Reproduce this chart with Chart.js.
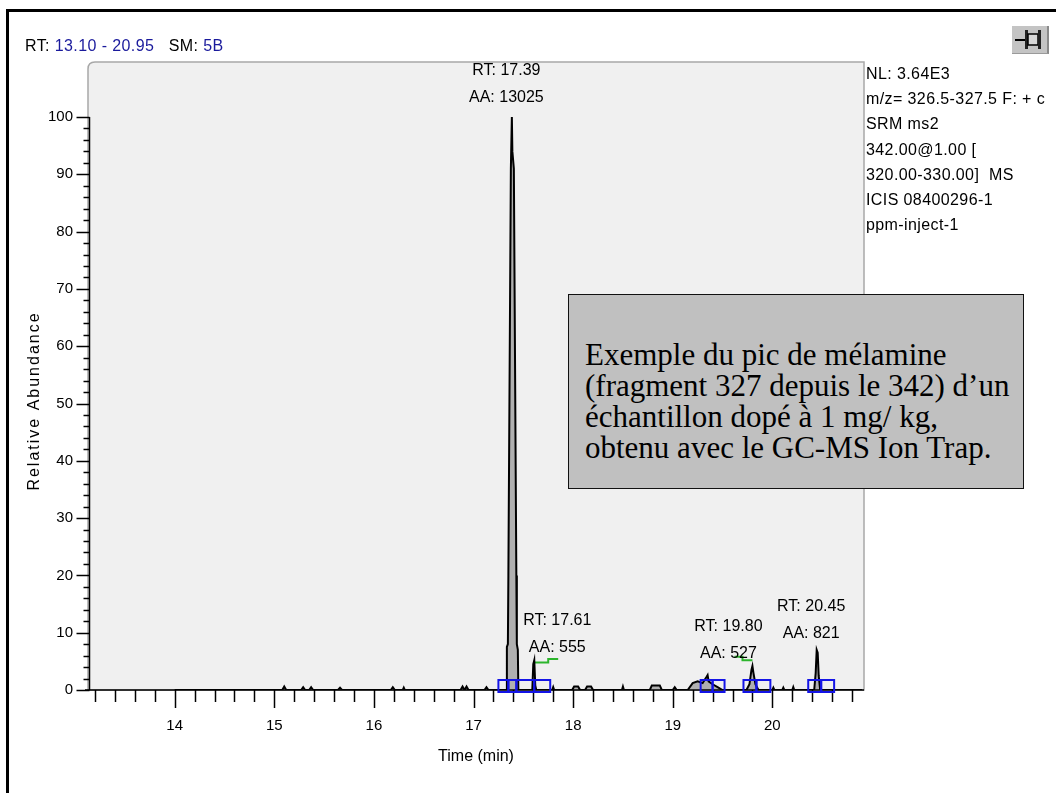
<!DOCTYPE html>
<html>
<head>
<meta charset="utf-8">
<script src="https://cdn.jsdelivr.net/npm/chart.js@4.4.1/dist/chart.umd.min.js"></script>
<style>
  body { margin: 0; background: #fff; }
  #wrap { position: relative; width: 1056px; height: 793px; overflow: hidden; font-family: "Liberation Sans", Arial, sans-serif; }
  #frameTop { position: absolute; left: 6px; top: 9px; width: 1050px; height: 3px; background: #000; }
  #frameLeft { position: absolute; left: 6px; top: 9px; width: 3px; height: 784px; background: #000; }
  #chart { position: absolute; left: 0; top: 0; }
  #header { position: absolute; left: 25px; top: 37px; font-size: 16px; letter-spacing: 0.4px; color: #000; white-space: pre; }
  #header .b { color: #1a1a9c; }
  #info { position: absolute; left: 866px; top: 61px; font-size: 16px; letter-spacing: 0.4px; line-height: 25.2px; color: #000; white-space: pre; }
  #pin { position: absolute; left: 1012px; top: 26px; width: 35px; height: 27px; background: #c4c4c4; border-right: 2px solid #8a8a8a; border-bottom: 1px solid #9a9a9a; }
  #note { position: absolute; left: 568px; top: 294px; width: 422px; height: 149px; padding: 44px 16px 0 16px; box-sizing: content-box;
          background: #c0c0c0; border: 1.5px solid #111; font-family: "Liberation Serif", "Times New Roman", serif; font-size: 31px; line-height: 31px; color: #000; white-space: nowrap; }
</style>
</head>
<body>
<div id="wrap">
  <canvas id="chart" width="1056" height="793"></canvas>
  <div id="frameTop"></div>
  <div id="frameLeft"></div>
  <div id="header">RT: <span class="b">13.10 - 20.95</span>   SM: <span class="b">5B</span></div>
  <div id="info"></div>
  <div id="pin">
    <svg width="35" height="27" viewBox="0 0 35 27">
      <line x1="3" y1="14" x2="13" y2="14" stroke="#000" stroke-width="2"/>
      <rect x="13" y="4" width="3" height="19" fill="#222"/>
      <rect x="16" y="8" width="10" height="11" fill="#d8d8d8" stroke="#000" stroke-width="1.5"/>
      <rect x="26" y="4" width="3" height="19" fill="#222"/>
    </svg>
  </div>
  <div id="note">Exemple du pic de mélamine<br>(fragment 327 depuis le 342) d’un<br>échantillon dopé à 1 mg/ kg,<br>obtenu avec le GC-MS Ion Trap.</div>
</div>

<script>
// chromatogram trace (time in min, relative abundance in %)
const times = [
  14.00,
  15.08, 15.10, 15.12,
  15.27, 15.29, 15.31, 15.35, 15.37, 15.39,
  15.64, 15.66, 15.68,
  16.17, 16.19, 16.21, 16.29, 16.30, 16.31,
  16.87, 16.89, 16.91, 16.93, 16.95,
  17.11, 17.13, 17.15,
  17.33, 17.335, 17.345, 17.35, 17.375, 17.385, 17.39, 17.405, 17.43, 17.435, 17.445, 17.45,
  17.59, 17.60, 17.61, 17.62, 17.63,
  17.79, 17.80, 17.81,
  17.99, 18.01, 18.05, 18.07, 18.12, 18.14, 18.18, 18.20,
  18.49, 18.50, 18.51,
  18.77, 18.79, 18.87, 18.89,
  19.00, 19.02, 19.04,
  19.15, 19.20, 19.25, 19.30, 19.34, 19.35, 19.36, 19.40, 19.45, 19.50,
  19.74, 19.77, 19.79, 19.80, 19.81, 19.83, 19.86,
  20.00, 20.01, 20.02, 20.10, 20.11, 20.12, 20.20, 20.21, 20.22,
  20.42, 20.435, 20.445, 20.455, 20.465, 20.48,
  20.90
];
const abundance = [
  0,
  0, 0.6, 0,
  0, 0.5, 0, 0, 0.5, 0,
  0, 0.4, 0,
  0, 0.5, 0, 0, 0.4, 0,
  0, 0.6, 0, 0.6, 0,
  0, 0.5, 0,
  0, 7.5, 8, 20, 91, 100, 94, 91, 20, 8, 7, 0,
  0, 4.5, 5.2, 0.8, 0,
  0, 0.5, 0,
  0, 0.6, 0.6, 0, 0, 0.6, 0.6, 0,
  0, 0.6, 0,
  0, 0.8, 0.8, 0,
  0, 0.5, 0,
  0, 1.2, 1.5, 1.2, 2.3, 2.6, 1.5, 1, 0.5, 0,
  0, 1, 3.5, 4.2, 3, 1, 0,
  0, 0.4, 0, 0, 0.4, 0, 0, 0.5, 0,
  0, 3, 7, 6.5, 2.5, 0,
  0
];

// labelled peaks
const peakRT = [17.39, 17.61, 19.80, 20.45];
const peakAA = [13025, 555, 527, 821];
const peakTop = [100, 5.2, 4.2, 7];

// integration markers (start / end, min)
const boxStart = [17.25, 17.35, 17.43, 17.61, 19.28, 19.40, 19.71, 19.84, 20.36, 20.49];
const boxEnd   = [17.35, 17.43, 17.61, 17.77, 19.40, 19.52, 19.84, 19.98, 20.49, 20.62];

// green baseline marks
const green1Times = [17.61, 17.75, 17.75, 17.85];
const green1Levels = [4.8, 4.8, 5.4, 5.4];
const green2Times = [19.62, 19.70, 19.70, 19.80];
const green2Levels = [5.8, 5.8, 5.2, 5.2];

// axes
const xMin = 13.10, xMax = 20.95;
const xTickLabels = [14, 15, 16, 17, 18, 19, 20];
const yTickLabels = [0, 10, 20, 30, 40, 50, 60, 70, 80, 90, 100];

const infoLines = ['NL: 3.64E3', 'm/z= 326.5-327.5 F: + c', 'SRM ms2', '342.00@1.00 [', '320.00-330.00]  MS', 'ICIS 08400296-1', 'ppm-inject-1'];
document.getElementById('info').textContent = infoLines.join('\n');

// label offsets (px) from each peak apex
const labelDx = [-6, 23, -24, -6];
const labelDy = [-19, -13, -12, -16];

const FONT = '"Liberation Sans", Arial, sans-serif';

const toPoints = (xs, ys) => xs.map((t, i) => ({ x: t, y: ys[i] }));

const chromPlugin = {
  id: 'chrom',
  beforeDatasetsDraw(chart) {
    const ctx = chart.ctx, a = chart.chartArea;
    ctx.save();
    const l = a.left + 3, t = a.top, r = a.right - 3, b = a.bottom, rad = 7;
    ctx.beginPath();
    ctx.moveTo(l, b);
    ctx.lineTo(l, t + rad);
    ctx.quadraticCurveTo(l, t, l + rad, t);
    ctx.lineTo(r, t);
    ctx.lineTo(r, b);
    ctx.closePath();
    ctx.fillStyle = '#f0f0f0';
    ctx.fill();
    ctx.strokeStyle = '#a8a8a8';
    ctx.lineWidth = 1.5;
    ctx.stroke();
    ctx.restore();
  },
  afterDraw(chart) {
    const ctx = chart.ctx, a = chart.chartArea;
    const xs = chart.scales.x, ys = chart.scales.y;
    ctx.save();
    ctx.strokeStyle = '#000';
    ctx.fillStyle = '#000';

    // x axis
    ctx.lineWidth = 1.5;
    ctx.beginPath();
    ctx.moveTo(a.left, a.bottom);
    ctx.lineTo(a.right - 3, a.bottom);
    ctx.stroke();
    xs.ticks.forEach(tk => {
      const px = Math.round(xs.getPixelForValue(tk.value)) + 0.5;
      const major = xTickLabels.some(v => Math.abs(v - tk.value) < 1e-6);
      ctx.beginPath();
      ctx.moveTo(px, a.bottom);
      ctx.lineTo(px, a.bottom + (major ? 18 : 12));
      ctx.stroke();
    });

    // y axis
    const yx = a.left + 4.5;
    ctx.beginPath();
    ctx.moveTo(yx, ys.getPixelForValue(100));
    ctx.lineTo(yx, a.bottom);
    ctx.stroke();
    ys.ticks.forEach(tk => {
      const py = Math.round(ys.getPixelForValue(tk.value)) + 0.5;
      const major = yTickLabels.includes(tk.value);
      ctx.beginPath();
      ctx.moveTo(yx - (major ? 13 : 6), py);
      ctx.lineTo(yx, py);
      ctx.stroke();
    });

    // integration markers
    ctx.strokeStyle = '#1414e6';
    ctx.lineWidth = 2;
    boxStart.forEach((s, i) => {
      const x0 = xs.getPixelForValue(s), x1 = xs.getPixelForValue(boxEnd[i]);
      ctx.strokeRect(x0, a.bottom - 10, x1 - x0, 12);
    });

    // peak labels
    ctx.fillStyle = '#000';
    ctx.font = '16px ' + FONT;
    ctx.textAlign = 'center';
    ctx.textBaseline = 'middle';
    peakRT.forEach((rt, i) => {
      const px = xs.getPixelForValue(rt) + labelDx[i];
      const py = ys.getPixelForValue(peakTop[i]) + labelDy[i];
      ctx.fillText('AA: ' + peakAA[i], px, py);
      ctx.fillText('RT: ' + rt.toFixed(2), px, py - 27);
    });

    // axis titles
    ctx.font = '16px ' + FONT;
    ctx.fillText('Time (min)', 476, 757);
    ctx.letterSpacing = '2px';
    ctx.translate(35, 401);
    ctx.rotate(-Math.PI / 2);
    ctx.fillText('Relative Abundance', 0, 0);
    ctx.restore();
  }
};

const xTickValues = [];
for (let v = 13.2; v < xMax; v += 0.2) xTickValues.push(Math.round(v * 10) / 10);
const yTickValues = [];
for (let v = 0; v <= 100; v += 2) yTickValues.push(v);

new Chart(document.getElementById('chart'), {
  type: 'line',
  data: {
    datasets: [
      {
        data: toPoints(times, abundance),
        borderColor: '#000',
        borderWidth: 2,
        backgroundColor: '#b0b0b0',
        fill: 'origin',
        pointRadius: 0,
        tension: 0
      },
      {
        data: toPoints(green1Times, green1Levels),
        borderColor: '#2cb52c',
        borderWidth: 2,
        pointRadius: 0,
        fill: false
      },
      {
        data: toPoints(green2Times, green2Levels),
        borderColor: '#2cb52c',
        borderWidth: 2,
        pointRadius: 0,
        fill: false
      }
    ]
  },
  options: {
    responsive: false,
    animation: false,
    layout: { padding: { left: 0, top: 62, right: 189, bottom: 0 } },
    plugins: { legend: { display: false }, tooltip: { enabled: false } },
    scales: {
      x: {
        type: 'linear',
        min: xMin,
        max: xMax,
        afterFit: s => { s.height = 103; },
        afterBuildTicks: s => { s.ticks = xTickValues.map(v => ({ value: v })); },
        grid: { display: false, drawTicks: false },
        border: { display: false },
        ticks: {
          autoSkip: false,
          maxRotation: 0,
          padding: 27,
          color: '#000',
          font: { family: FONT, size: 15 },
          callback: v => (xTickLabels.some(t => Math.abs(t - v) < 1e-6) ? String(Math.round(v)) : '')
        }
      },
      y: {
        min: 0,
        max: 109.6,
        afterFit: s => { s.width = 85; },
        afterBuildTicks: s => { s.ticks = yTickValues.map(v => ({ value: v })); },
        grid: { display: false, drawTicks: false },
        border: { display: false },
        ticks: {
          autoSkip: false,
          padding: 12,
          color: '#000',
          font: { family: FONT, size: 15 },
          callback: v => (yTickLabels.includes(v) ? String(v) : '')
        }
      }
    }
  },
  plugins: [chromPlugin]
});
</script>
</body>
</html>
